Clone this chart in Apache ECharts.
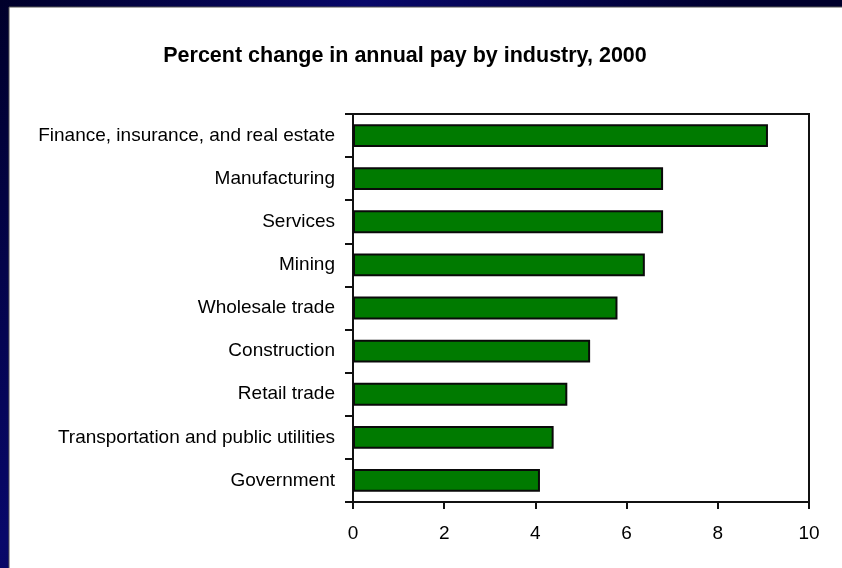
<!DOCTYPE html>
<html>
<head>
<meta charset="utf-8">
<script src="https://cdn.jsdelivr.net/npm/echarts@6/dist/echarts.min.js"></script>
<style>
html,body{margin:0;padding:0;background:#00002e;}
#chart{width:842px;height:568px;}
</style>
</head>
<body>
<div id="chart"></div>
<script>
const categories = [
  "Finance, insurance, and real estate",
  "Manufacturing",
  "Services",
  "Mining",
  "Wholesale trade",
  "Construction",
  "Retail trade",
  "Transportation and public utilities",
  "Government"
];
const values = [9.1, 6.8, 6.8, 6.4, 5.8, 5.2, 4.7, 4.4, 4.1];
const xTicks = [0, 2, 4, 6, 8, 10];
const titleText = "Percent change in annual pay by industry, 2000";

const chart = echarts.init(document.getElementById('chart'));
chart.setOption({
  animation: false,
  backgroundColor: {
    type: 'linear', x: 0, y: 0, x2: 1, y2: 1,
    colorStops: [
      {offset: 0, color: '#00002a'},
      {offset: 0.3, color: '#08086a'},
      {offset: 0.6, color: '#00002e'},
      {offset: 1, color: '#000024'}
    ]
  },
  graphic: [{
    type: 'rect', z: -10,
    shape: {x: 9, y: 7, width: 840, height: 570},
    style: {fill: '#ffffff', stroke: '#555555', lineWidth: 1}
  }],
  title: {
    text: titleText,
    left: 400, top: 40, textAlign: 'center',
    textStyle: {fontFamily: 'Liberation Sans, Arial, sans-serif', fontSize: 21.5, fontWeight: 'bold', color: '#000'}
  },
  grid: {
    left: 353, right: 33, top: 114, bottom: 66,
    show: true, borderColor: '#111', borderWidth: 2, backgroundColor: 'transparent'
  },
  xAxis: {
    type: 'value', min: 0, max: 10, interval: 2,
    splitLine: {show: false},
    axisLine: {show: true, lineStyle: {color: '#111', width: 2}},
    axisTick: {show: true, length: 7, lineStyle: {color: '#111', width: 2}},
    axisLabel: {
      margin: 22, color: '#000', fontSize: 19,
      fontFamily: 'Liberation Sans, Arial, sans-serif',
      formatter: function (v) { return xTicks.indexOf(v) >= 0 ? String(v) : ''; }
    }
  },
  yAxis: {
    type: 'category', data: categories, inverse: true,
    axisLine: {show: true, lineStyle: {color: '#111', width: 2}},
    axisTick: {show: true, length: 8, lineStyle: {color: '#111', width: 2}},
    axisLabel: {margin: 18, color: '#000', fontSize: 19, fontFamily: 'Liberation Sans, Arial, sans-serif'}
  },
  series: [{
    type: 'bar', data: values, barWidth: '53%',
    itemStyle: {color: '#007a00', borderColor: '#0a0a0a', borderWidth: 2}
  }]
});
</script>
</body>
</html>
